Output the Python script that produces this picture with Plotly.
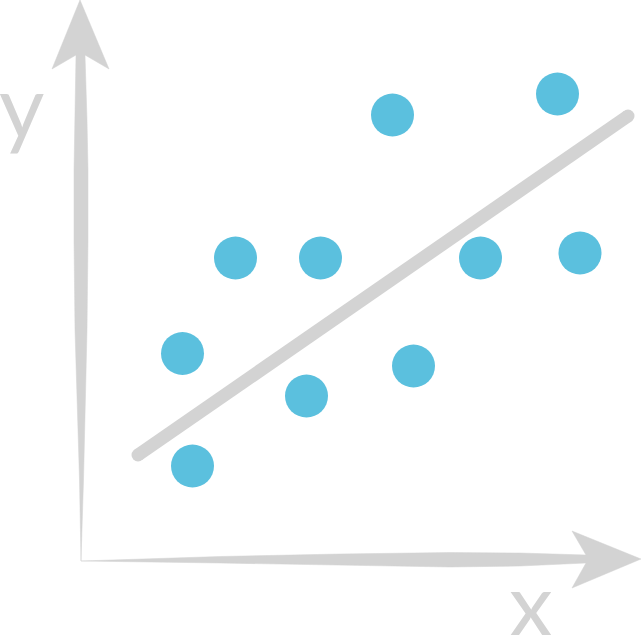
import plotly.graph_objects as go

# Scatter points
point_x = [392.5, 557.5, 235.5, 320.5, 480.5, 580, 182.5, 306.5, 413.5, 192.5]
point_y = [115, 94, 258, 258, 258, 253, 353.5, 396, 366, 466]

# Trend line
trend_x = [138, 628]
trend_y = [455, 116]

# Hand drawn axis arrows, as outlines
y_arrow_x = [80, 52, 76, 74.5, 74, 74, 75, 79.5, 81, 83.5, 87, 88, 88, 87, 85, 109, 80]
y_arrow_y = [0, 69, 55, 120, 170, 240, 330, 480, 561, 480, 330, 240, 170, 120, 55, 69, 0]
x_arrow_x = [641, 572, 586, 520, 450, 340, 220, 81, 220, 340, 450, 520, 586, 572, 641]
x_arrow_y = [559, 531, 555, 553, 552.5, 554, 556.5, 561, 563, 565, 567, 566, 563, 588, 559]

GREY = "#d3d3d3"
BLUE = "#5bc0de"

fig = go.Figure()

for xs, ys in [(y_arrow_x, y_arrow_y), (x_arrow_x, x_arrow_y)]:
    fig.add_trace(go.Scatter(x=xs, y=ys, mode="lines", fill="toself",
                             fillcolor=GREY, line=dict(color=GREY, width=0.5)))

# markers at the ends give the line its round caps
fig.add_trace(go.Scatter(x=trend_x, y=trend_y, mode="lines+markers",
                         line=dict(color=GREY, width=13),
                         marker=dict(color=GREY, size=13)))

fig.add_trace(go.Scatter(x=point_x, y=point_y, mode="markers",
                         marker=dict(color=BLUE, size=43, line=dict(width=0))))

label_font = dict(family="Lato", size=88, color=GREY)
fig.add_annotation(x=21, y=104, text="y", showarrow=False, font=label_font)
fig.add_annotation(x=531, y=602, text="x", showarrow=False, font=label_font)

fig.update_layout(
    width=641, height=635,
    margin=dict(l=0, r=0, t=0, b=0),
    paper_bgcolor="white", plot_bgcolor="white",
    showlegend=False,
    xaxis=dict(range=[0, 641], visible=False),
    yaxis=dict(range=[635, 0], visible=False),
)

fig.write_html("out.html", config=dict(displayModeBar=False),
               post_script="document.body.style.margin='0';")
